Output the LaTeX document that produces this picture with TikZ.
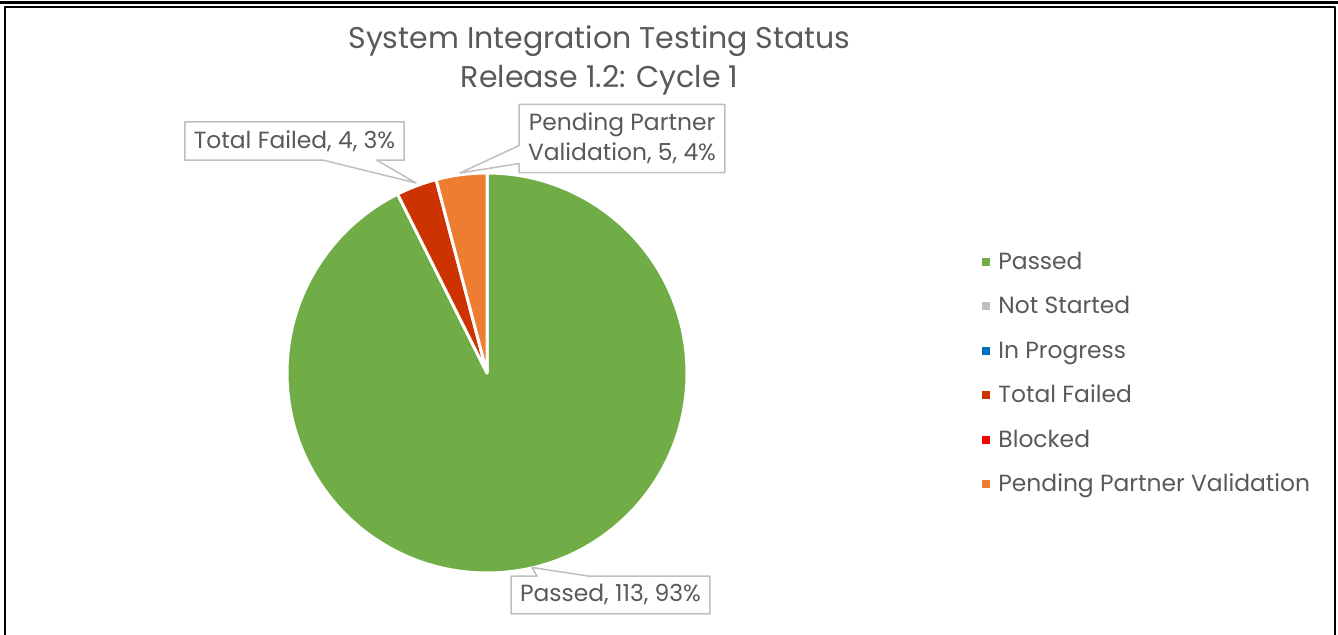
\documentclass[tikz,border=0pt]{standalone}
\usepackage{fontspec}
\setmainfont{Poppins}
\usetikzlibrary{shapes.callouts}
\definecolor{passed}{HTML}{70AD47}
\definecolor{notstarted}{HTML}{BFBFBF}
\definecolor{inprogress}{HTML}{0070C0}
\definecolor{failed}{HTML}{CC3300}
\definecolor{blocked}{HTML}{FF0000}
\definecolor{pending}{HTML}{ED7D31}
\definecolor{txt}{HTML}{595959}
\definecolor{edge}{HTML}{BFBFBF}
\begin{document}
\begin{tikzpicture}[x=0.5pt,y=0.5pt,line join=round,
  txtfont/.style={text=txt,font=\fontsize{11.7}{15}\selectfont},
  lbl/.style={txtfont,rectangle callout,draw=edge,line width=0.75pt,fill=white,align=center,inner xsep=4.5pt,inner ysep=4.25pt},
  keytext/.style={txtfont,anchor=base west,inner sep=0pt}]
\def\cx{487}\def\cy{262}\def\r{200}
\useasboundingbox (0,0) rectangle (1338,635);
% frame
\draw[line width=1.5pt] (0,632.5) -- (1338,632.5);
\draw[line width=1pt] (5,0) -- (5,628) -- (1334.5,628) -- (1334.5,0);
% title
\node[text=txt,font=\fontsize{15}{19.5}\selectfont,align=center] (title) at (599.5,575) {System Integration Testing Status\\Release 1.2: Cycle 1};
% slices, clockwise from the top
\foreach \a/\b/\c in {90/-243.44/passed, 116.56/104.75/failed, 104.75/90/pending}
  \filldraw[fill=\c,draw=white,line width=1.5pt] (\cx,\cy) -- ++(\a:\r) arc[start angle=\a,end angle=\b,radius=\r] -- cycle;
% data labels
\coordinate (tipfail) at (416,452);
\coordinate (tippend) at (460,462);
\coordinate (tippass) at (532,67.5);
\node[lbl,callout absolute pointer={(tipfail)},callout pointer width=27pt] (fail) at (294.5,494) {Total Failed, 4, 3\%};
\node[lbl,callout absolute pointer={(tippend)},callout pointer width=9pt] (pend) at (622,496.5) {Pending Partner\\Validation, 5, 4\%};
\node[lbl,callout absolute pointer={(tippass)},callout pointer width=26pt] (pass) at (610.5,40) {Passed, 113, 93\%};
% legend
\foreach \name/\col [count=\i from 0] in {Passed/passed, Not Started/notstarted, In Progress/inprogress, Total Failed/failed, Blocked/blocked, Pending Partner Validation/pending} {
  \fill[\col] (982,{369-44.4*\i}) rectangle ++(8,8);
  \node[keytext] (key\i) at (998,{365.5-44.4*\i}) {\name};
}
\end{tikzpicture}
\end{document}
